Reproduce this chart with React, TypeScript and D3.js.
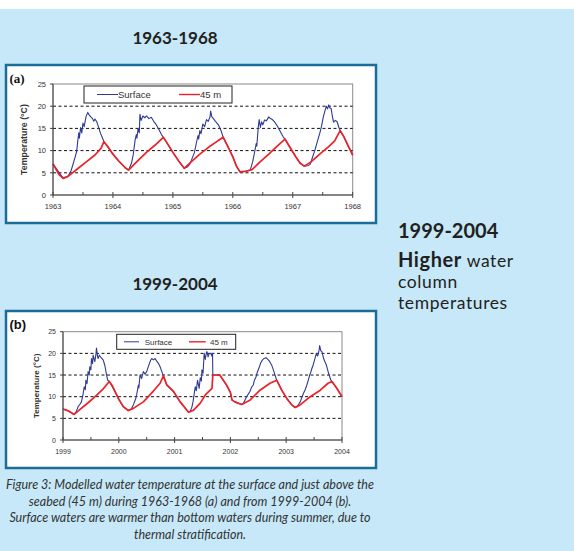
import React from "react";
import * as d3 from "d3";

type Pt = [number, number];

const yTicks = [0, 5, 10, 15, 20, 25];
const yearsA = [1963, 1964, 1965, 1966, 1967, 1968];
const yearsB = [1999, 2000, 2001, 2002, 2003, 2004];
const legendLabels = ["Surface", "45 m"];
const yAxisLabel = "Temperature (°C)";
const titleA = "1963-1968";
const titleB = "1999-2004";
const sideTitle = "1999-2004";
const sideBold = "Higher";
const sideLines = [" water", "column", "temperatures"];
const captionLines = [
  "Figure 3:  Modelled water temperature at the surface and just above the",
  "seabed (45 m) during 1963-1968 (a) and from 1999-2004 (b).",
  "Surface waters are warmer than bottom waters during summer, due to",
  "thermal stratification.",
];

const deepA: Pt[] = [
  [1963.0, 7.0], [1963.05, 5.8], [1963.1, 4.6], [1963.17, 3.75], [1963.25, 4.2], [1963.4, 5.8],
  [1963.55, 7.4], [1963.7, 9.0], [1963.8, 10.5], [1963.85, 12.0], [1963.92, 10.8], [1964.0, 9.2],
  [1964.1, 7.6], [1964.2, 6.2], [1964.26, 5.6], [1964.4, 7.5], [1964.55, 9.5], [1964.7, 11.2],
  [1964.84, 13.0], [1964.9, 11.8], [1965.0, 9.6], [1965.1, 7.6], [1965.19, 6.0], [1965.3, 7.4],
  [1965.45, 9.2], [1965.6, 10.8], [1965.75, 12.2], [1965.84, 13.0], [1965.9, 11.4], [1966.0, 8.6],
  [1966.06, 6.5], [1966.12, 5.2], [1966.2, 5.3], [1966.32, 5.7], [1966.45, 7.4], [1966.6, 9.2],
  [1966.75, 11.1], [1966.87, 12.6], [1966.95, 10.8], [1967.05, 8.6], [1967.12, 7.2], [1967.19, 6.5],
  [1967.3, 7.4], [1967.45, 9.2], [1967.6, 10.9], [1967.7, 12.2], [1967.79, 14.5], [1967.85, 13.2],
  [1967.92, 11.2], [1968.0, 9.0],
];

const surfaceA: Pt[] = [
  [1963.0, 7.0], [1963.17, 3.75], [1963.25, 4.2], [1963.3, 5.4], [1963.34, 7.2], [1963.37, 8.6],
  [1963.395, 9.8], [1963.41, 11.8], [1963.43, 14.0], [1963.44, 12.8], [1963.46, 15.2], [1963.48, 14.0],
  [1963.5, 16.2], [1963.52, 15.4], [1963.55, 17.6], [1963.58, 18.6], [1963.6, 18.1], [1963.63, 17.6],
  [1963.66, 17.2], [1963.68, 16.6], [1963.7, 17.1], [1963.73, 16.5], [1963.76, 15.3], [1963.79, 14.0],
  [1963.82, 13.0], [1963.85, 12.0], [1964.0, 9.2], [1964.1, 7.6], [1964.2, 6.2], [1964.26, 5.6],
  [1964.31, 7.2], [1964.34, 9.2], [1964.37, 12.4], [1964.39, 13.6], [1964.4, 12.8], [1964.42, 15.0],
  [1964.44, 14.0], [1964.45, 18.2], [1964.47, 16.8], [1964.5, 17.8], [1964.53, 17.4], [1964.56, 17.8],
  [1964.6, 17.2], [1964.64, 17.5], [1964.68, 16.6], [1964.72, 15.9], [1964.76, 14.9], [1964.81, 13.6],
  [1964.84, 13.0], [1965.0, 9.6], [1965.1, 7.6], [1965.19, 6.0], [1965.24, 6.3], [1965.28, 6.9],
  [1965.32, 8.2], [1965.36, 9.6], [1965.39, 11.6], [1965.42, 13.4], [1965.43, 12.6], [1965.45, 14.5],
  [1965.47, 13.8], [1965.5, 16.0], [1965.53, 15.4], [1965.56, 17.0], [1965.59, 16.6], [1965.62, 17.6],
  [1965.63, 18.9], [1965.65, 17.6], [1965.67, 17.3], [1965.71, 16.6], [1965.76, 15.8], [1965.8, 14.6],
  [1965.84, 13.0], [1966.0, 8.6], [1966.06, 6.5], [1966.12, 5.2], [1966.2, 5.3], [1966.29, 5.6],
  [1966.33, 7.4], [1966.37, 10.1], [1966.39, 11.6], [1966.4, 11.0], [1966.425, 15.4], [1966.44, 17.0],
  [1966.46, 15.2], [1966.48, 16.5], [1966.5, 15.8], [1966.53, 16.9], [1966.56, 16.7], [1966.6, 17.6],
  [1966.62, 17.3], [1966.66, 17.0], [1966.7, 16.4], [1966.73, 15.8], [1966.78, 14.6], [1966.84, 13.1],
  [1966.87, 12.6], [1966.95, 10.8], [1967.05, 8.6], [1967.12, 7.2], [1967.19, 6.5], [1967.25, 6.6],
  [1967.29, 6.9], [1967.33, 8.5], [1967.37, 10.1], [1967.41, 12.0], [1967.45, 13.9], [1967.48, 15.5],
  [1967.51, 17.6], [1967.54, 19.1], [1967.56, 20.0], [1967.58, 19.4], [1967.6, 20.3], [1967.62, 19.6],
  [1967.64, 19.5], [1967.66, 17.8], [1967.68, 16.4], [1967.71, 16.8], [1967.74, 16.5], [1967.77, 15.2],
  [1967.79, 14.5], [1967.85, 13.2], [1967.92, 11.2], [1968.0, 9.0],
];

const deepB: Pt[] = [
  [1999.0, 7.15], [1999.06, 6.9], [1999.1, 6.7], [1999.15, 6.3], [1999.2, 5.9], [1999.3, 7.0],
  [1999.45, 8.6], [1999.6, 10.3], [1999.72, 11.8], [1999.83, 13.5], [1999.88, 12.6], [1999.94, 11.0],
  [2000.0, 9.4], [2000.08, 7.7], [2000.17, 6.8], [2000.26, 7.3], [2000.44, 8.8], [2000.62, 11.3],
  [2000.74, 13.1], [2000.8, 14.8], [2000.86, 12.7], [2000.98, 11.2], [2001.1, 8.8], [2001.25, 6.4],
  [2001.34, 6.9], [2001.46, 8.5], [2001.55, 10.4], [2001.67, 11.9], [2001.685, 15.0], [2001.81, 15.0],
  [2001.93, 12.7], [2002.0, 11.0], [2002.03, 9.2], [2002.08, 8.8], [2002.2, 8.2], [2002.35, 9.2],
  [2002.53, 11.5], [2002.71, 13.1], [2002.83, 13.8], [2002.92, 11.5], [2003.01, 9.6], [2003.1, 8.1],
  [2003.16, 7.5], [2003.25, 8.1], [2003.43, 10.0], [2003.61, 11.5], [2003.75, 13.1], [2003.82, 13.5],
  [2003.91, 11.9], [2004.0, 10.0],
];

const surfaceB: Pt[] = [
  [1999.0, 7.15], [1999.1, 6.7], [1999.2, 5.9], [1999.24, 6.6], [1999.27, 7.7], [1999.3, 8.2],
  [1999.33, 8.8], [1999.36, 10.6], [1999.38, 12.3], [1999.4, 11.6], [1999.41, 13.8], [1999.43, 13.0],
  [1999.45, 15.8], [1999.47, 15.0], [1999.48, 16.9], [1999.5, 16.2], [1999.51, 18.8], [1999.53, 17.6],
  [1999.54, 19.6], [1999.57, 18.1], [1999.59, 19.8], [1999.6, 21.2], [1999.62, 19.2], [1999.63, 18.8],
  [1999.65, 19.6], [1999.67, 19.2], [1999.7, 18.8], [1999.72, 18.5], [1999.75, 17.2], [1999.77, 15.8],
  [1999.8, 13.8], [1999.83, 13.5], [1999.94, 11.0], [2000.0, 9.4], [2000.08, 7.7], [2000.17, 6.8],
  [2000.22, 7.1], [2000.26, 8.1], [2000.3, 9.4], [2000.32, 10.4], [2000.35, 12.7], [2000.36, 12.0],
  [2000.38, 15.0], [2000.41, 14.2], [2000.44, 15.8], [2000.47, 15.2], [2000.5, 15.8], [2000.52, 16.6],
  [2000.55, 17.7], [2000.57, 18.4], [2000.59, 18.8], [2000.62, 18.5], [2000.65, 18.8], [2000.68, 18.2],
  [2000.71, 17.7], [2000.74, 16.9], [2000.76, 16.2], [2000.8, 14.8], [2000.86, 12.7], [2000.98, 11.2],
  [2001.1, 8.8], [2001.25, 6.4], [2001.28, 6.6], [2001.31, 7.6], [2001.33, 8.8], [2001.35, 10.6],
  [2001.37, 12.3], [2001.39, 11.4], [2001.41, 13.8], [2001.43, 12.6], [2001.44, 11.9], [2001.46, 14.4],
  [2001.48, 13.6], [2001.49, 16.2], [2001.51, 15.4], [2001.52, 17.7], [2001.53, 20.0], [2001.55, 18.6],
  [2001.57, 20.2], [2001.58, 20.4], [2001.6, 19.2], [2001.62, 20.0], [2001.65, 20.0], [2001.665, 19.4],
  [2001.68, 20.0], [2001.685, 15.0], [2001.81, 15.0], [2001.93, 12.7], [2002.0, 11.0], [2002.03, 9.2],
  [2002.08, 8.8], [2002.2, 8.2], [2002.23, 8.4], [2002.26, 9.2], [2002.29, 10.0], [2002.32, 10.6],
  [2002.35, 11.2], [2002.38, 12.2], [2002.41, 12.7], [2002.43, 13.8], [2002.46, 14.6], [2002.48, 15.6],
  [2002.5, 16.2], [2002.52, 16.9], [2002.54, 17.7], [2002.56, 18.2], [2002.59, 18.7], [2002.62, 18.9],
  [2002.64, 19.0], [2002.67, 18.6], [2002.7, 18.2], [2002.72, 17.7], [2002.74, 17.3], [2002.78, 15.8],
  [2002.83, 13.8], [2002.92, 11.5], [2003.01, 9.6], [2003.1, 8.1], [2003.16, 7.5], [2003.19, 7.7],
  [2003.22, 8.2], [2003.25, 8.8], [2003.28, 9.8], [2003.31, 10.8], [2003.34, 11.6], [2003.37, 12.7],
  [2003.4, 14.0], [2003.42, 15.0], [2003.44, 15.6], [2003.46, 16.5], [2003.48, 17.2], [2003.5, 18.1],
  [2003.52, 19.0], [2003.54, 20.0], [2003.56, 19.4], [2003.57, 19.6], [2003.59, 20.8], [2003.6, 21.8],
  [2003.62, 20.6], [2003.64, 20.4], [2003.67, 18.8], [2003.7, 17.9], [2003.72, 17.3], [2003.76, 15.4],
  [2003.8, 13.8], [2003.82, 13.5], [2003.91, 11.9], [2004.0, 10.0],
];

const BG = "#c6e8f8";
const FRAME = "#1b6c98";
const BLUE = "#2e3a96";
const RED = "#ec2228";
const SANS = "'Liberation Sans', Arial, sans-serif";
const HUM = "Lato, 'Open Sans', sans-serif";

type PanelProps = {
  box: { x: number; y: number; w: number; h: number };
  plot: { l: number; r: number; t: number; b: number };
  years: number[];
  surface: Pt[];
  deep: Pt[];
  legend: { x1: number; x2: number; y1: number; y2: number; b1: number; b2: number; t1: number; r1: number; r2: number; t2: number; fs: number };
  label: string;
  labelFont: string;
  ylabX: number;
  ylabFs: number;
  tickFs: number;
};

function Panel({ box, plot, years, surface, deep, legend, label, labelFont, ylabX, ylabFs, tickFs }: PanelProps) {
  const x = d3.scaleLinear().domain([years[0], years[years.length - 1]]).range([plot.l, plot.r]);
  const y = d3.scaleLinear().domain([0, 25]).range([plot.b, plot.t]);
  const line = d3.line<Pt>().x((d) => x(d[0])).y((d) => y(d[1]));
  const halfYears = years.slice(0, -1).map((v) => v + 0.5);
  const ly = (legend.y1 + legend.y2) / 2;
  return (
    <g>
      <rect x={box.x} y={box.y} width={box.w} height={box.h} fill="#fff" stroke={FRAME} strokeWidth={2.5} />
      <text x={box.x + 3.5} y={box.y + 18} fontFamily={labelFont} fontWeight="bold" fontSize={13} fill="#111">
        {label}
      </text>
      <rect x={plot.l} y={plot.t} width={plot.r - plot.l} height={plot.b - plot.t} fill="#fff" stroke="#8a8a8a" strokeWidth={1} />
      {yTicks.filter((v) => v > 0 && v < 25).map((v) => (
        <line key={v} x1={plot.l} x2={plot.r} y1={y(v)} y2={y(v)} stroke="#111" strokeWidth={1} strokeDasharray="3,2.5" />
      ))}
      <path d={line(surface) || ""} fill="none" stroke={BLUE} strokeWidth={1.1} strokeLinejoin="round" />
      <path d={line(deep) || ""} fill="none" stroke={RED} strokeWidth={1.7} strokeLinejoin="round" />
      <line x1={plot.l} x2={plot.l} y1={plot.t} y2={plot.b} stroke="#444" strokeWidth={1} />
      <line x1={plot.l} x2={plot.r} y1={plot.b} y2={plot.b} stroke="#444" strokeWidth={1} />
      {yTicks.map((v) => (
        <g key={v}>
          <line x1={plot.l - 3} x2={plot.l} y1={y(v)} y2={y(v)} stroke="#444" />
          <text x={plot.l - 7} y={y(v) + 2.7} textAnchor="end" fontFamily={SANS} fontSize={tickFs} fill="#333">
            {v}
          </text>
        </g>
      ))}
      {years.map((v) => (
        <g key={v}>
          <line x1={x(v)} x2={x(v)} y1={plot.b - 3} y2={plot.b + 3} stroke="#444" />
          <text x={x(v)} y={plot.b + 14} textAnchor="middle" fontFamily={SANS} fontSize={tickFs} fill="#333">
            {v}
          </text>
        </g>
      ))}
      {halfYears.map((v) => (
        <line key={v} x1={x(v)} x2={x(v)} y1={plot.b - 3} y2={plot.b} stroke="#444" />
      ))}
      <text
        transform={`translate(${ylabX},${(plot.t + plot.b) / 2}) rotate(-90)`}
        textAnchor="middle"
        fontFamily={SANS}
        fontWeight="bold"
        fontSize={ylabFs}
        fill="#333"
      >
        {yAxisLabel}
      </text>
      <rect x={legend.x1} y={legend.y1} width={legend.x2 - legend.x1} height={legend.y2 - legend.y1} fill="#fff" stroke="#222" strokeWidth={1} />
      <line x1={legend.b1} x2={legend.b2} y1={ly} y2={ly} stroke={BLUE} strokeWidth={1} />
      <text x={legend.t1} y={ly + legend.fs * 0.36} fontFamily={SANS} fontSize={legend.fs} fill="#333">
        {legendLabels[0]}
      </text>
      <line x1={legend.r1} x2={legend.r2} y1={ly} y2={ly} stroke={RED} strokeWidth={1.4} />
      <text x={legend.t2} y={ly + legend.fs * 0.36} fontFamily={SANS} fontSize={legend.fs} fill="#333">
        {legendLabels[1]}
      </text>
    </g>
  );
}

export default function App() {
  return (
    <svg width={574} height={551} style={{ position: "absolute", left: 0, top: 0, display: "block" }}>
      <rect x={0} y={0} width={574} height={551} fill="#fff" />
      <rect x={0} y={9} width={574} height={542} fill={BG} />
      <text x={175} y={44} textAnchor="middle" fontFamily={HUM} fontWeight="bold" fontSize={17} fill="#231f20">
        {titleA}
      </text>
      <Panel
        box={{ x: 6, y: 65, w: 370, h: 158 }}
        plot={{ l: 53, r: 352.7, t: 84, b: 195 }}
        years={yearsA}
        surface={surfaceA}
        deep={deepA}
        legend={{ x1: 84, x2: 232, y1: 86, y2: 103, b1: 97, b2: 118, t1: 118, r1: 179, r2: 200, t2: 200, fs: 9.5 }}
        label="(a)"
        labelFont="'Liberation Serif', 'Times New Roman', serif"
        ylabX={27}
        ylabFs={8.8}
        tickFs={7.5}
      />
      <text x={175} y={290} textAnchor="middle" fontFamily={HUM} fontWeight="bold" fontSize={17} fill="#231f20">
        {titleB}
      </text>
      <Panel
        box={{ x: 6, y: 311, w: 370, h: 157 }}
        plot={{ l: 63, r: 342, t: 331.7, b: 440 }}
        years={yearsB}
        surface={surfaceB}
        deep={deepB}
        legend={{ x1: 116.7, x2: 235.7, y1: 334.3, y2: 349.3, b1: 124, b2: 139, t1: 144.7, r1: 189, r2: 205.7, t2: 210, fs: 8 }}
        label="(b)"
        labelFont={SANS}
        ylabX={39}
        ylabFs={8}
        tickFs={7}
      />
      <text x={398} y={238} fontFamily={HUM} fontWeight="bold" fontSize={20} fill="#231f20">
        {sideTitle}
      </text>
      <text x={398} y={267} fontFamily={HUM} fontSize={17.5} letterSpacing={0.6} fill="#231f20">
        <tspan fontWeight="bold" fontSize={20}>{sideBold}</tspan>
        <tspan>{sideLines[0]}</tspan>
      </text>
      <text x={398} y={288} fontFamily={HUM} fontSize={17.5} letterSpacing={0.6} fill="#231f20">
        {sideLines[1]}
      </text>
      <text x={398} y={309} fontFamily={HUM} fontSize={17.5} letterSpacing={0.6} fill="#231f20">
        {sideLines[2]}
      </text>
      {captionLines.map((s, i) => (
        <text
          key={i}
          x={190}
          y={489 + i * 16.5}
          textAnchor="middle"
          fontFamily={HUM}
          fontStyle="italic"
          fontSize={12.5}
          fill="#333"
        >
          {s}
        </text>
      ))}
    </svg>
  );
}
